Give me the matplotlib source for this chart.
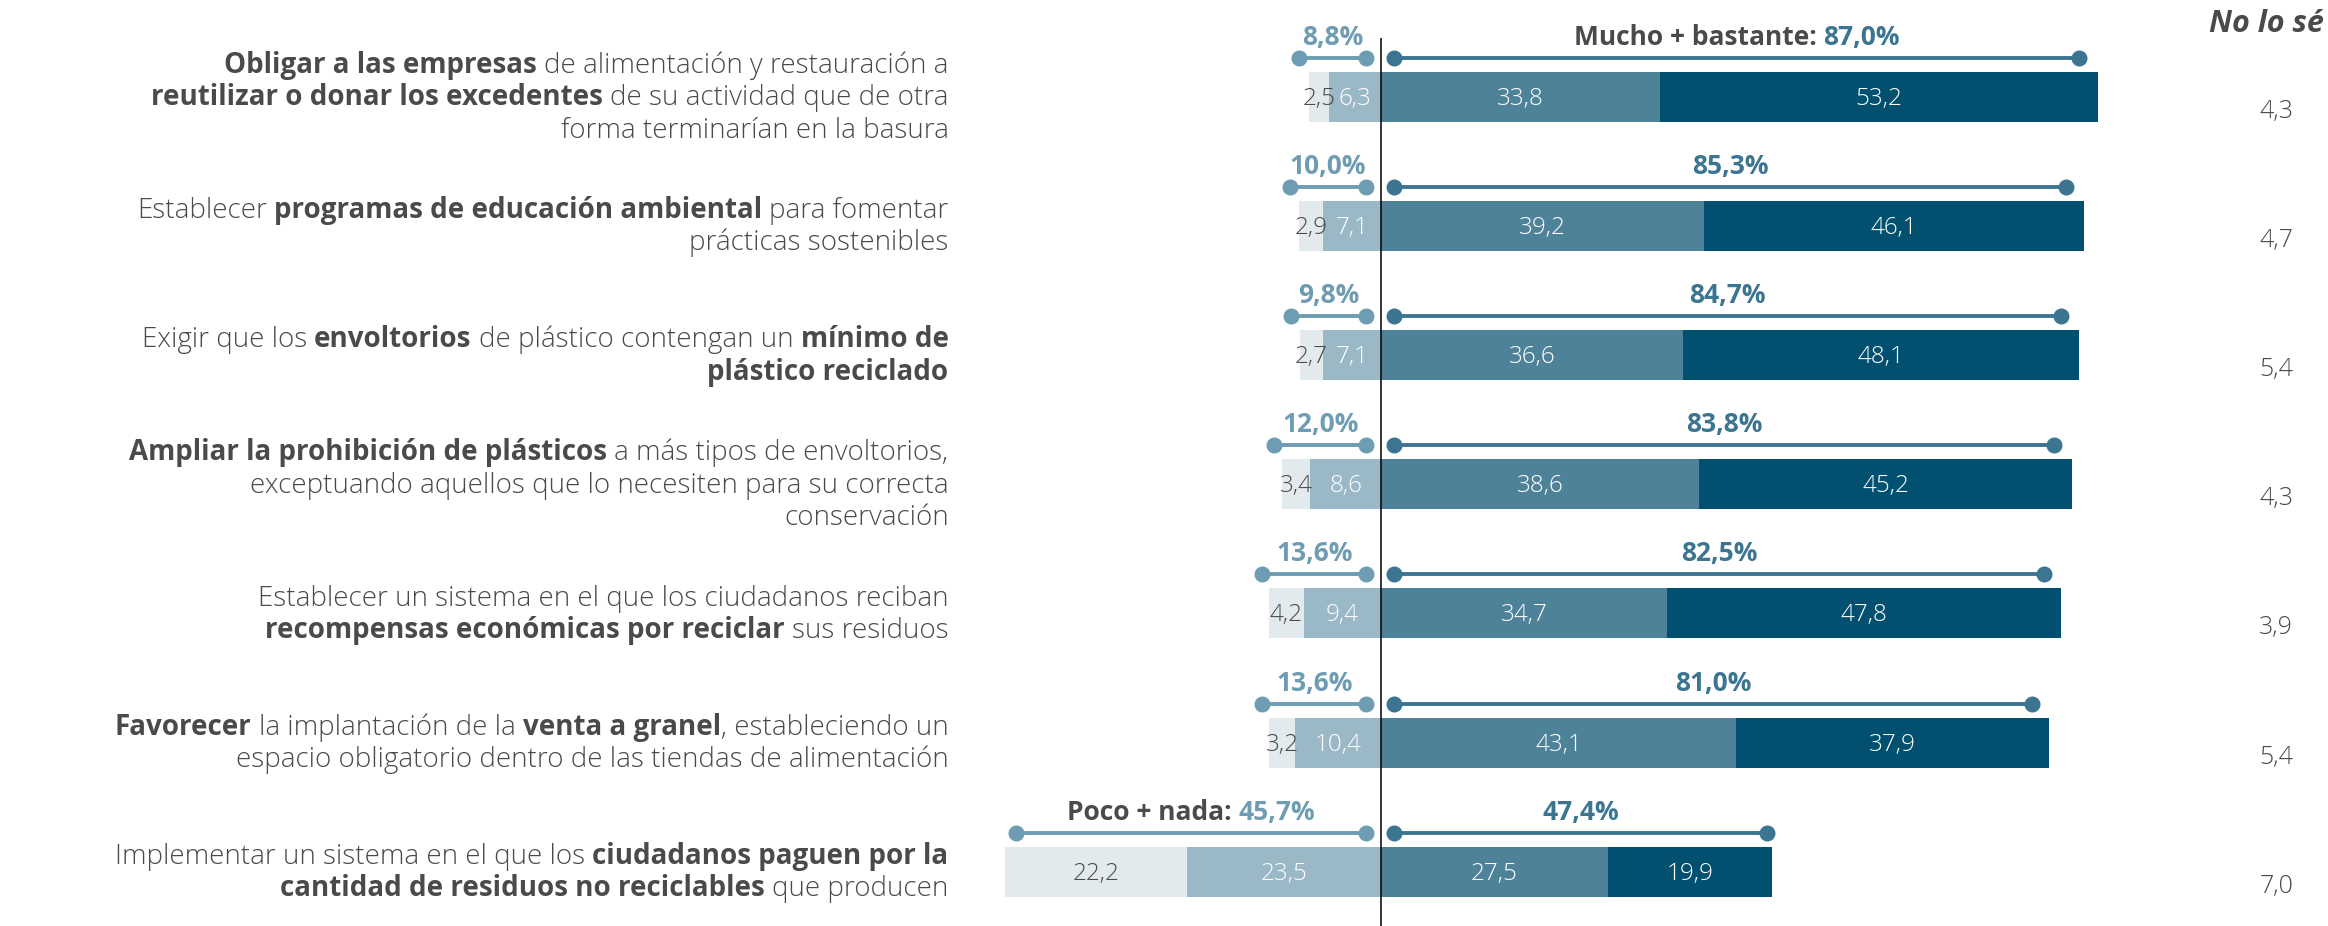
import matplotlib
matplotlib.use('Agg')
import matplotlib.pyplot as plt
import numpy as np

# ---------------- data ----------------
labels = [
    ["**Obligar a las empresas** de alimentación y restauración a",
     "**reutilizar o donar los excedentes** de su actividad que de otra",
     "forma terminarían en la basura"],
    ["Establecer **programas de educación ambiental** para fomentar",
     "prácticas sostenibles"],
    ["Exigir que los **envoltorios** de plástico contengan un **mínimo de**",
     "**plástico reciclado**"],
    ["**Ampliar la prohibición de plásticos** a más tipos de envoltorios,",
     "exceptuando aquellos que lo necesiten para su correcta",
     "conservación"],
    ["Establecer un sistema en el que los ciudadanos reciban",
     "**recompensas económicas por reciclar** sus residuos"],
    ["**Favorecer** la implantación de la **venta a granel**, estableciendo un",
     "espacio obligatorio dentro de las tiendas de alimentación"],
    ["Implementar un sistema en el que los **ciudadanos paguen por la**",
     "**cantidad de residuos no reciclables** que producen"],
]
nada = [2.5, 2.9, 2.7, 3.4, 4.2, 3.2, 22.2]
poco = [6.3, 7.1, 7.1, 8.6, 9.4, 10.4, 23.5]
bastante = [33.8, 39.2, 36.6, 38.6, 34.7, 43.1, 27.5]
mucho = [53.2, 46.1, 48.1, 45.2, 47.8, 37.9, 19.9]
no_lo_se = [4.3, 4.7, 5.4, 4.3, 3.9, 5.4, 7.0]
poco_nada_total = [8.8, 10.0, 9.8, 12.0, 13.6, 13.6, 45.7]
mucho_bastante_total = [87.0, 85.3, 84.7, 83.8, 82.5, 81.0, 47.4]
no_lo_se_header = "No lo sé"
left_prefix = "Poco + nada: "
right_prefix = "Mucho + bastante: "

# ---------------- style ----------------
FONT = ['Open Sans', 'DejaVu Sans']
plt.rcParams['font.family'] = FONT
C_NADA = '#e3eaee'
C_POCO = '#9ab8c6'
C_BAST = '#4e8299'
C_MUCHO = '#02506f'
C_LBR = '#6e9cb2'
C_RBR = '#3b7591'
C_TXT = '#4a4a4a'

W, H, DPI = 2328, 926, 100
fig = plt.figure(figsize=(W / DPI, H / DPI), dpi=DPI)
ax = fig.add_axes([0, 0, 1, 1])
ax.set_xlim(-167.6, 114.9)
ax.set_ylim(6.42, -0.747)
ax.axis('off')

PX_ROW = H / (6.42 + 0.747)
def rows(px):
    return px / PX_ROW

n = len(nada)
y = np.arange(n)
bh = rows(50)

ax.barh(y, [-v for v in poco], left=0, height=bh, color=C_POCO, zorder=2)
ax.barh(y, [-v for v in nada], left=[-v for v in poco], height=bh, color=C_NADA, zorder=2)
ax.barh(y, bastante, left=0, height=bh, color=C_BAST, zorder=2)
ax.barh(y, mucho, left=bastante, height=bh, color=C_MUCHO, zorder=2)
ax.vlines(0, rows(38 - 96.5), 6.42, color='black', lw=1.1, zorder=5)

fmt = lambda v: f"{v:.1f}".replace('.', ',')

lab_kw = dict(fontsize=17.5, fontweight='light', ha='center', va='baseline', zorder=6)
off = rows(8)
for i in range(n):
    ax.text(-poco[i] - nada[i] / 2, i + off, fmt(nada[i]), color=C_TXT, **lab_kw)
    ax.text(-poco[i] / 2, i + off, fmt(poco[i]), color='white', **lab_kw)
    ax.text(bastante[i] / 2, i + off, fmt(bastante[i]), color='white', **lab_kw)
    ax.text(bastante[i] + mucho[i] / 2, i + off, fmt(mucho[i]), color='white', **lab_kw)
    ax.text(108.6, i + rows(21), fmt(no_lo_se[i]), color=C_TXT, fontsize=18,
            fontweight='light', ha='center', va='baseline')

ax.text(100.5, rows(32 - 96.5), no_lo_se_header, color=C_TXT, fontsize=22,
        fontweight='bold', fontstyle='italic', ha='left', va='baseline')

fig.canvas.draw()
renderer = fig.canvas.get_renderer()
inv = ax.transData.inverted()

def place(x, yy, segs, ha):
    arts, widths = [], []
    for s, kw, gap in segs:
        t = ax.text(x, yy, s, ha='left', va='baseline', **kw)
        widths.append(t.get_window_extent(renderer).width)
        arts.append(t)
    total = sum(widths) + sum(g for _, _, g in segs)
    x_px = ax.transData.transform((x, yy))[0]
    start = {'left': x_px, 'right': x_px - total, 'center': x_px - total / 2}[ha]
    for t, w, (_, _, g) in zip(arts, widths, segs):
        start += g
        t.set_x(inv.transform((start, 0))[0])
        start += w

def text_w(s, **kw):
    t = ax.text(0, 0, s, **kw)
    w = t.get_window_extent(renderer).width
    t.remove()
    return w

# brackets
br_off = rows(39)
for i in range(n):
    yb = i - br_off
    lx0, lx1 = -1.8, -1.8 - poco_nada_total[i] * 0.93
    rx0, rx1 = 1.6, 1.6 + mucho_bastante_total[i] * 0.955
    ax.plot([lx1, lx0], [yb, yb], color=C_LBR, lw=2.8, marker='o', ms=10.5,
            solid_capstyle='butt', zorder=4)
    ax.plot([rx0, rx1], [yb, yb], color=C_RBR, lw=2.8, marker='o', ms=10.5,
            solid_capstyle='butt', zorder=4)
    yl = yb - rows(13)
    bk = dict(fontsize=19, fontweight='bold')
    lsegs = []
    rsegs = []
    if i == n - 1:
        lsegs.append((left_prefix.strip(), dict(color=C_TXT, **bk), 0))
    lsegs.append((fmt(poco_nada_total[i]) + '%', dict(color=C_LBR, **bk),
                   text_w('n n', **bk) - text_w('nn', **bk) if lsegs else 0))
    if i == 0:
        rsegs.append((right_prefix.strip(), dict(color=C_TXT, **bk), 0))
    rsegs.append((fmt(mucho_bastante_total[i]) + '%', dict(color=C_RBR, **bk),
                   text_w('n n', **bk) - text_w('nn', **bk) if rsegs else 0))
    place((lx0 + lx1) / 2, yl, lsegs, 'center')
    place((rx0 + rx1) / 2, yl, rsegs, 'center')

# category labels (mixed bold / light)
LFS = 20
reg = dict(fontsize=LFS, fontweight='light', color=C_TXT)
bold = dict(fontsize=LFS, fontweight='bold', color=C_TXT)
sp = {'r': text_w('n n', **reg) - text_w('nn', **reg),
      'b': text_w('n n', **bold) - text_w('nn', **bold)}
line_sp = rows(32.5)
for i, lines in enumerate(labels):
    nl = len(lines)
    for k, line in enumerate(lines):
        yy = i + rows(8.5) + (k - (nl - 1) / 2) * line_sp
        parts = line.split('**')
        segs = []
        pending_space = False
        for j, p in enumerate(parts):
            if p == '':
                continue
            isb = j % 2 == 1
            lead = p[0] == ' '
            trail = p[-1] == ' '
            txt = p.strip()
            gap = 0
            if segs and (lead or pending_space):
                gap = sp['b' if isb else 'r']
            segs.append((txt, bold if isb else reg, gap))
            pending_space = trail
        place(-52.5, yy, segs, 'right')

fig.savefig('out.png', dpi=DPI)
